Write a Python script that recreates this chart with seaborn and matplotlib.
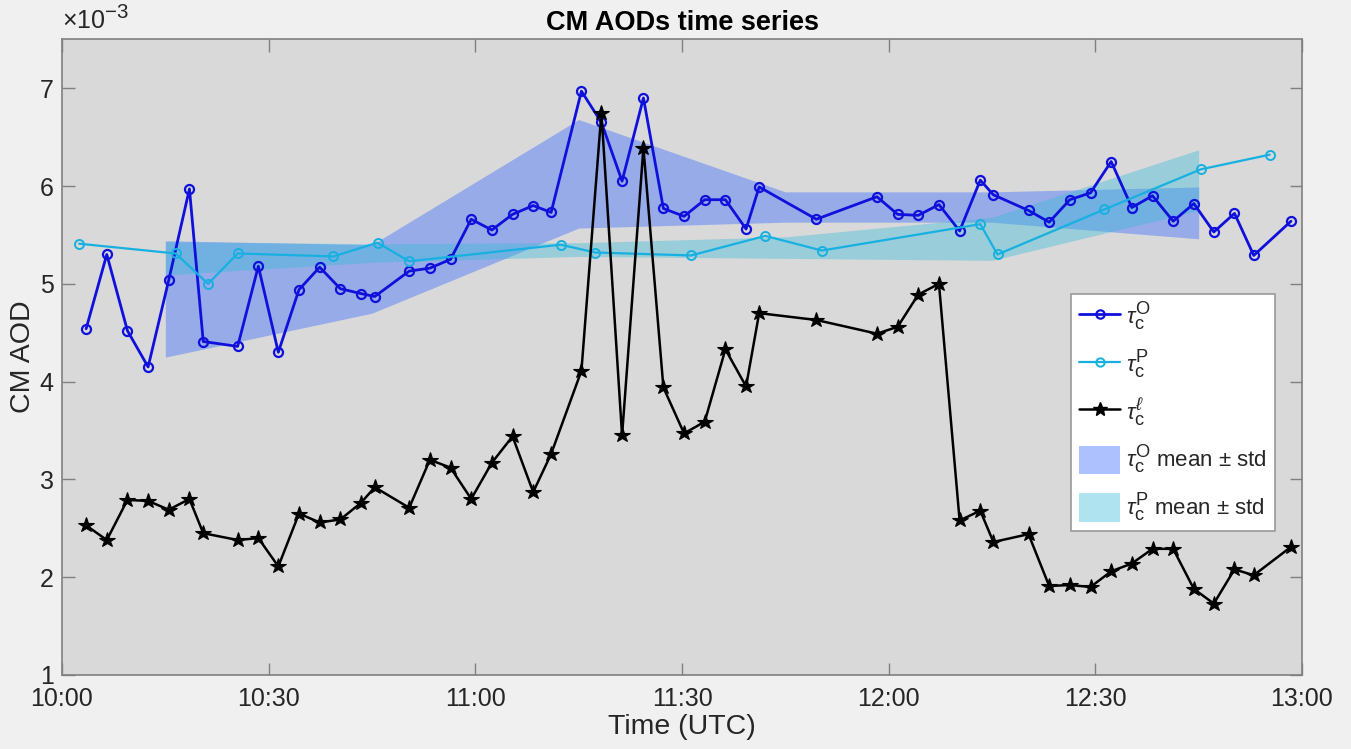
import matplotlib
matplotlib.use("Agg")
import matplotlib.pyplot as plt
import numpy as np
import pandas as pd
import seaborn as sns
from matplotlib.patches import Patch
from matplotlib.lines import Line2D

try:  # larger sub/superscripts, closer to the TeX-interpreter look of the original
    import matplotlib._mathtext as _mt
    _mt.SHRINK_FACTOR = 0.82
except Exception:
    pass

# ---------------- data (AOD values in units of 1e-3, time = minutes after 10:00 UTC) ----------------
t_obs = [3.5, 6.5, 9.5, 12.5, 15.5, 18.5, 20.5, 25.5, 28.5, 31.4,
         34.4, 37.4, 40.4, 43.4, 45.4, 50.4, 53.4, 56.4, 59.4, 62.4,
         65.4, 68.4, 71.0, 75.4, 78.3, 81.3, 84.4, 87.3, 90.3, 93.3,
         96.3, 99.3, 101.2, 109.5, 118.3, 121.3, 124.3, 127.3, 130.3, 133.3,
         135.2, 140.3, 143.3, 146.3, 149.3, 152.3, 155.3, 158.3, 161.3, 164.3,
         167.2, 170.2, 173.0, 178.4]
tau_O = [4.54, 5.30, 4.52, 4.15, 5.04, 5.97, 4.41, 4.36, 5.18, 4.30,
         4.94, 5.17, 4.95, 4.90, 4.87, 5.13, 5.16, 5.25, 5.66, 5.55,
         5.71, 5.80, 5.73, 6.97, 6.65, 6.05, 6.90, 5.77, 5.69, 5.86,
         5.86, 5.56, 5.99, 5.66, 5.89, 5.71, 5.70, 5.81, 5.54, 6.06,
         5.91, 5.75, 5.63, 5.86, 5.93, 6.25, 5.78, 5.90, 5.64, 5.82,
         5.53, 5.72, 5.29, 5.64]
tau_l = [2.53, 2.38, 2.79, 2.78, 2.69, 2.80, 2.45, 2.38, 2.40, 2.11,
         2.65, 2.56, 2.59, 2.76, 2.92, 2.71, 3.20, 3.12, 2.80, 3.17,
         3.44, 2.87, 3.26, 4.11, 6.75, 3.45, 6.39, 3.94, 3.47, 3.59,
         4.33, 3.95, 4.70, 4.63, 4.49, 4.56, 4.89, 5.00, 2.58, 2.68,
         2.36, 2.44, 1.91, 1.92, 1.90, 2.06, 2.14, 2.29, 2.29, 1.88,
         1.73, 2.08, 2.02, 2.31]

t_P = [2.5, 16.5, 21.2, 25.5, 39.4, 45.8, 50.4, 72.4, 77.4, 91.3,
       102.1, 110.3, 133.3, 135.8, 151.3, 165.3, 175.3]
tau_P = [5.41, 5.31, 5.00, 5.31, 5.28, 5.42, 5.23, 5.40, 5.32, 5.29,
         5.49, 5.34, 5.61, 5.30, 5.76, 6.17, 6.32]

t_band = [15, 45, 75, 105, 135, 165]
O_mean = [4.845, 5.05, 6.125, 5.785, 5.785, 5.725]
O_std = [0.595, 0.35, 0.555, 0.155, 0.155, 0.265]
P_mean = [5.26, 5.315, 5.35, 5.37, 5.46, 6.06]
P_std = [0.17, 0.095, 0.07, 0.11, 0.22, 0.31]

xtick_min = [0, 30, 60, 90, 120, 150, 180]
xtick_labels = ["10:00", "10:30", "11:00", "11:30", "12:00", "12:30", "13:00"]
yticks = [1, 2, 3, 4, 5, 6, 7]

lab_O = r"$\tau_{\mathrm{c}}^{\mathrm{O}}$"
lab_P = r"$\tau_{\mathrm{c}}^{\mathrm{P}}$"
lab_l = r"$\tau_{\mathrm{c}}^{\ell}$"

# ---------------- style ----------------
sns.set_style("ticks")
plt.rcParams["font.family"] = ["Liberation Sans", "DejaVu Sans"]
plt.rcParams["mathtext.fontset"] = "custom"
plt.rcParams["mathtext.rm"] = "Liberation Sans"
plt.rcParams["mathtext.it"] = "Liberation Sans:italic"
plt.rcParams["mathtext.bf"] = "Liberation Sans:bold"

C_O = "#1010dc"
C_P = "#18b0e0"
C_K = "#000000"
F_O = "#3366ff"
F_P = "#39bbd9"
TXT = "#262626"
SPINE = "#808080"

fig = plt.figure(figsize=(13.51, 7.49), dpi=100, facecolor="#f0f0f0")
ax = fig.add_axes([62 / 1351, 1 - 675 / 749, 1240 / 1351, 635.7 / 749])
ax.set_facecolor("#d9d9d9")

tb = np.array(t_band)
om, osd = np.array(O_mean), np.array(O_std)
pm, psd = np.array(P_mean), np.array(P_std)
ax.fill_between(tb, om - osd, om + osd, color=F_O, alpha=0.4, lw=0, zorder=1)
ax.fill_between(tb, pm - psd, pm + psd, color=F_P, alpha=0.4, lw=0, zorder=1.1)

df = pd.DataFrame({"t": t_obs, "O": tau_O, "L": tau_l})
dfp = pd.DataFrame({"t": t_P, "P": tau_P})

sns.lineplot(data=df, x="t", y="O", ax=ax, color=C_O, lw=2, marker="o", ms=6.5,
             mfc="none", mec=C_O, mew=1.6, estimator=None, sort=False, zorder=3)
sns.lineplot(data=dfp, x="t", y="P", ax=ax, color=C_P, lw=1.6, marker="o", ms=6.5,
             mfc="none", mec=C_P, mew=1.4, estimator=None, sort=False, zorder=3.1)
sns.lineplot(data=df, x="t", y="L", ax=ax, color=C_K, lw=1.8, marker="*", ms=11.5,
             mfc=C_K, mec=C_K, mew=0.8, estimator=None, sort=False, zorder=3.2)

ax.set_xlim(0, 180)
ax.set_ylim(1, 7.5)
ax.set_xticks(xtick_min)
ax.set_xticklabels(xtick_labels)
ax.set_yticks(yticks)
ax.set_yticklabels([str(v) for v in yticks])

for s in ax.spines.values():
    s.set_visible(True)
    s.set_color(SPINE)
    s.set_linewidth(1.2)
ax.tick_params(direction="in", length=9, width=1.0, color=SPINE, labelcolor=TXT,
               labelsize=18, top=True, right=True)
ax.tick_params(axis="x", pad=9)
ax.tick_params(axis="y", pad=6)

ax.set_xlabel("Time (UTC)", fontsize=20.5, color=TXT, labelpad=2)
ax.set_ylabel("CM AOD", fontsize=20.5, color=TXT, labelpad=3)
ax.set_title("CM AODs time series", fontsize=19.5, fontweight="bold", color="#000000", pad=7)
ax.text(0.0, 1.008, r"$\times10^{-3}$", transform=ax.transAxes, fontsize=18,
        color=TXT, ha="left", va="bottom")

handles = [
    Line2D([], [], color=C_O, lw=2, marker="o", ms=6, mfc="none", mec=C_O, mew=1.6),
    Line2D([], [], color=C_P, lw=1.6, marker="o", ms=6, mfc="none", mec=C_P, mew=1.4),
    Line2D([], [], color=C_K, lw=1.8, marker="*", ms=10, mfc=C_K, mec=C_K),
    Patch(facecolor=F_O, alpha=0.4, lw=0),
    Patch(facecolor=F_P, alpha=0.4, lw=0),
]
labels = [lab_O, lab_P, lab_l, lab_O + " mean ± std", lab_P + " mean ± std"]
leg = ax.legend(handles, labels, loc="upper left", bbox_to_anchor=(0.814, 0.60),
                fontsize=16, frameon=True, fancybox=False, framealpha=1,
                edgecolor="#999999", facecolor="white", handlelength=1.85,
                handleheight=1.6, labelspacing=0.7, borderpad=0.35, handletextpad=0.25,
                borderaxespad=0)
leg.get_frame().set_linewidth(1.2)
leg.set_zorder(10)

fig.savefig("out.png", dpi=100, facecolor=fig.get_facecolor())
